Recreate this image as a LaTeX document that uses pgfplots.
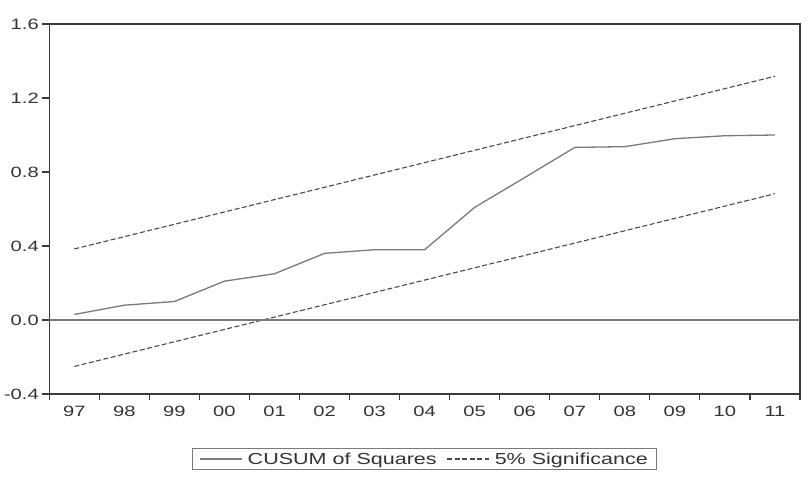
\documentclass[border=0pt]{standalone}
\usepackage{pgfplots}
\pgfplotsset{compat=1.18}
\usepackage{fontspec}
\setmainfont{Liberation Sans}[FakeStretch=1.35]
\definecolor{framec}{HTML}{3A3A3A}
\definecolor{linec}{HTML}{7A7A7A}
\definecolor{dashc}{HTML}{4A4A4A}
\definecolor{textc}{HTML}{333333}
\begin{document}
\begin{tikzpicture}
\path[use as bounding box] (0,0) rectangle (810bp,479bp);
\begin{axis}[
  at={(49.3bp,85bp)}, anchor=south west,
  scale only axis, width=750.7bp, height=370bp,
  xmin=-0.5, xmax=14.5, ymin=-0.4, ymax=1.6,
  axis line style={framec, line width=1.3bp},
  xtick={0,...,14},
  xticklabels={97,98,99,00,01,02,03,04,05,06,07,08,09,10,11},
  minor xtick={-0.5,0.5,...,14.5},
  major x tick style={draw=none},
  minor x tick style={framec, line width=1.1bp},
  ytick={-0.4,0,0.4,0.8,1.2,1.6},
  yticklabels={-0.4,0.0,0.4,0.8,1.2,1.6},
  y tick style={framec, line width=1.1bp},
  tick align=outside, major tick length=7bp, minor tick length=6bp,
  xtick pos=bottom, ytick pos=left,
  ticklabel style={font=\fontsize{15}{18}\selectfont, text=textc},
  xticklabel style={yshift=-2bp},
  yticklabel style={xshift=0bp},
  legend style={at={(0.5,-0.1757)}, anchor=center, draw=linec, line width=1.1bp,
    font=\fontsize{16}{19}\selectfont, text=textc, inner xsep=7bp, inner ysep=2bp,
    /tikz/every odd column/.append style={column sep=3bp},
    /tikz/every even column/.append style={column sep=8bp}},
  legend columns=2,
  legend image code/.code={\draw[#1] (0bp,0bp) -- (42bp,0bp);},
  clip=false,
]
\addplot[linec, line width=1.3bp] coordinates {
(0,0.03) (1,0.08) (2,0.10) (3,0.21) (4,0.25) (5,0.36) (6,0.38) (7,0.38)
(8,0.609) (9,0.77) (10,0.933) (11,0.937) (12,0.98) (13,0.996) (14,1.0)};
\addlegendentry{CUSUM of Squares}
\addplot[dashc, line width=1.1bp, dash pattern=on 5bp off 2.5bp] coordinates {
(0,0.384) (14,1.3175)};
\addlegendentry{5\% Significance}
\addplot[dashc, line width=1.1bp, dash pattern=on 5bp off 2.5bp, forget plot] coordinates {
(0,-0.251) (14,0.6825)};
\addplot[linec, line width=1.3bp, forget plot] coordinates {(-0.5,0) (14.5,0)};
\end{axis}
\end{tikzpicture}
\end{document}
